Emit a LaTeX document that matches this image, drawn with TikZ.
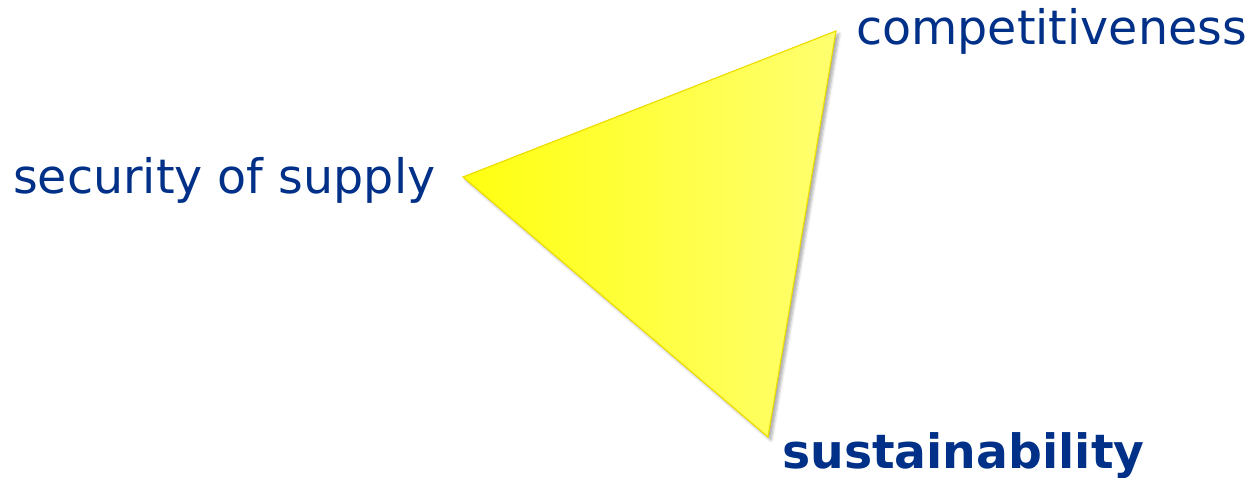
\documentclass[tikz,border=0pt]{standalone}
\usepackage{fontspec}
\setmainfont{DejaVu Sans}
\usetikzlibrary{shadows.blur}
\definecolor{txtblue}{HTML}{003087}
\definecolor{yelA}{HTML}{FFFF10}
\definecolor{yelB}{HTML}{FFFF70}
\definecolor{yelEdge}{HTML}{EEDD00}
\tikzset{
  lbl/.style={text=txtblue, font=\fontsize{47.5}{54}\selectfont, inner sep=0pt},
  lblbold/.style={lbl, font=\fontsize{47.3}{54}\selectfont\bfseries},
}
\begin{document}
\begin{tikzpicture}[x=1pt,y=-1pt]
\useasboundingbox (0,0) rectangle (1251,478);
\coordinate (L) at (463,177);
\coordinate (T) at (836,31);
\coordinate (B) at (768,437);
\fill[yelA!60!yelB, left color=yelA, right color=yelB, draw=yelEdge, line width=1.2pt, line join=miter,
  blur shadow={shadow xshift=3pt, shadow yshift=-3pt, shadow blur steps=6, shadow blur radius=3pt, shadow opacity=35}]
  (L) -- (T) -- (B) -- cycle;
\node[lbl, anchor=base west] (sec) at (13,194) {security of supply};
\node[lbl, anchor=base west] (comp) at (856,45) {competitiveness};
\node[lblbold, anchor=base west] (sus) at (782,468) {sustainability};
\end{tikzpicture}
\end{document}
